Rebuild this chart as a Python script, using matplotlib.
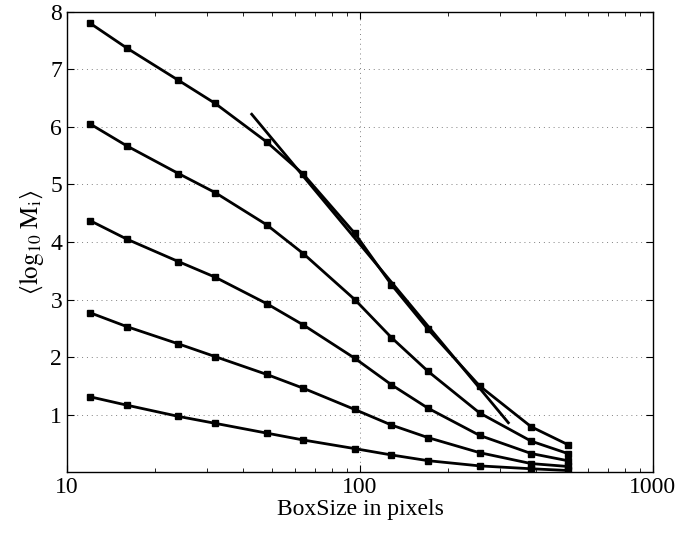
import matplotlib
matplotlib.use("Agg")
import matplotlib.pyplot as plt

# box sizes (pixels)
box_sizes = [12, 16, 24, 32, 48, 64, 96, 128, 171, 256, 384, 512]

# <log10 M_i> for each moment order, bottom to top
moment_1 = [1.31, 1.165, 0.97, 0.85, 0.68, 0.56, 0.41, 0.30, 0.20, 0.11, 0.06, 0.03]
moment_2 = [2.77, 2.53, 2.23, 2.01, 1.70, 1.46, 1.09, 0.82, 0.60, 0.34, 0.15, 0.10]
moment_3 = [4.37, 4.05, 3.66, 3.39, 2.93, 2.56, 1.98, 1.52, 1.11, 0.64, 0.325, 0.20]
moment_4 = [6.05, 5.67, 5.19, 4.86, 4.30, 3.80, 3.00, 2.34, 1.75, 1.03, 0.54, 0.325]
moment_5 = [7.80, 7.37, 6.81, 6.41, 5.74, 5.18, 4.15, 3.26, 2.48, 1.50, 0.79, 0.48]

# straight fit through the steep part of the top curve
fit_x = [42.7, 321]
fit_y = [6.22, 0.86]

plt.rcParams["font.family"] = ["Liberation Serif", "DejaVu Serif"]
plt.rcParams["mathtext.fontset"] = "stix"

fig = plt.figure(figsize=(6.75, 5.36), dpi=100)
ax = fig.add_axes([0.0993, 0.119, 0.868, 0.859])

for series in [moment_1, moment_2, moment_3, moment_4, moment_5]:
    ax.plot(box_sizes, series, "k-", linewidth=2, marker="s", markersize=4.5)
ax.plot(fit_x, fit_y, "k-", linewidth=2)

ax.set_xscale("log")
ax.set_xlim(10, 1000)
ax.set_ylim(0, 8)
ax.set_yticks(range(1, 9))
ax.set_xticks([10, 100, 1000])
ax.set_xticklabels(["10", "100", "1000"])

ax.grid(True, which="major", color="#808080", linestyle=(0, (1, 4)), linewidth=0.7)
ax.tick_params(which="both", direction="in", top=True, right=True, labelsize=17)
ax.tick_params(which="major", length=5)
ax.tick_params(which="minor", length=3)
for s in ax.spines.values():
    s.set_linewidth(1)

ax.set_xlabel("BoxSize in pixels", fontsize=17, labelpad=1)
ax.set_ylabel(r"$\langle\log_{10}\,\mathrm{M_i}\rangle$", fontsize=18, labelpad=3)

fig.savefig("out.png", dpi=100)
